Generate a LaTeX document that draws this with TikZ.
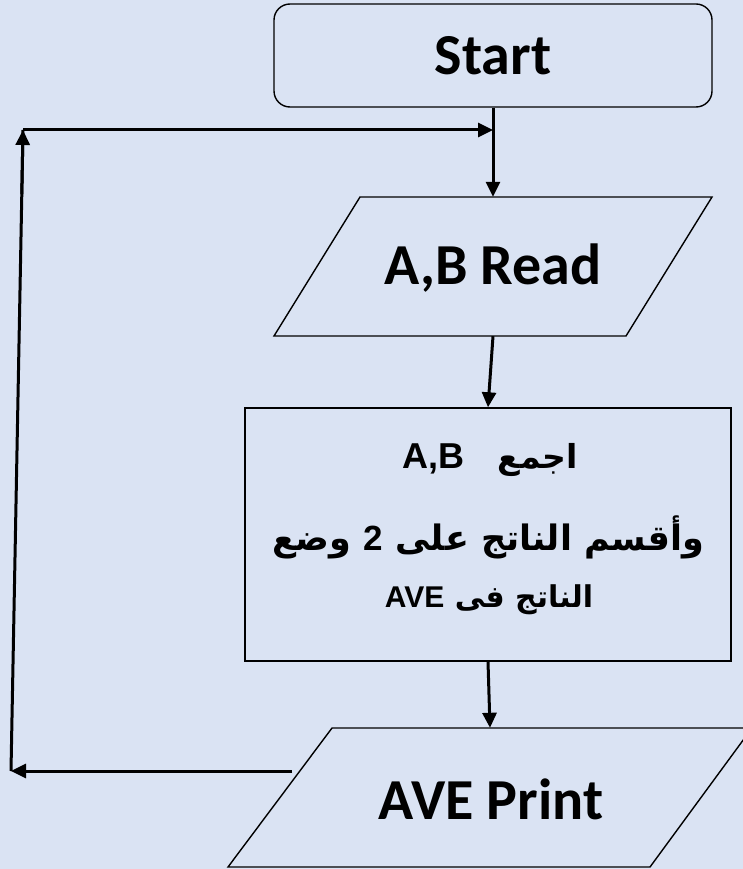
\documentclass[tikz,border=0pt]{standalone}
\usepackage{fontspec}
\setmainfont{Carlito}
\newfontfamily\arabicfont[Script=Arabic]{DejaVu Sans}
\newfontfamily\arialfont{Liberation Sans}
\TeXXeTstate=1
\usetikzlibrary{arrows.meta,calc}
\definecolor{bgc}{HTML}{DAE3F3}
\tikzset{
  box/.style={draw=black,line width=1.4pt,fill=bgc,inner sep=0pt},
  textbox/.style={draw=none,inner sep=0pt,font=\fontsize{58}{60}\selectfont\bfseries},
  arabline/.style={inner sep=0pt,anchor=base},
  arr/.style={line width=3pt,-{Triangle[length=15pt,width=14pt]}},
}
\begin{document}
\begin{tikzpicture}[x=1pt,y=-1pt]
\fill[bgc] (0,0) rectangle (743,869);
\useasboundingbox (0,0) rectangle (743,869);
\clip (0,0) rectangle (743,869);
% Start
\node[box,rounded corners=16pt,minimum width=438pt,minimum height=103pt,
      font=\fontsize{58}{60}\selectfont\bfseries] (start) at (493,55.5) {Start};
% Read
\node[textbox,minimum width=350pt,minimum height=139pt] (read) at (493,266.5) {};
\draw[box] (360,197) -- (712,197) -- (626,336) -- (274,336) -- cycle;
\node[textbox] (readt) at (493,268) {A,B Read};
% Process
\node[box,minimum width=486pt,minimum height=253pt] (proc) at (488,534.5) {};
\node[arabline] (l1) at (490,468) {\bfseries\fontsize{33}{34}\selectfont\arabicfont\beginR اجمع\quad\beginL\fontsize{36}{38}\selectfont\arialfont A,B\endL\endR};
\node[arabline] (l2) at (488,550) {\bfseries\fontsize{35}{37}\selectfont\arabicfont\beginR وأقسم الناتج على \arialfont 2\arabicfont{} وضع\endR};
\node[arabline] (l3) at (489,607) {\bfseries\fontsize{30}{32}\selectfont\arabicfont\beginR الناتج فى \beginL\arialfont AVE\endL\endR};
% Print
\node[textbox,minimum width=350pt,minimum height=139pt] (print) at (490,797.5) {};
\draw[box] (332,728) -- (752,728) -- (650,867) -- (228,867) -- cycle;
\node[textbox] (printt) at (491,799) {AVE Print};
% connectors
\coordinate (pl) at (292,771);
\coordinate (c1) at (11,771);
\coordinate (c2) at (23,130);
\coordinate (c3) at (493,130);
\draw[arr] (start.south) -- (read.north);
\draw[arr] (read.south) -- (proc.north);
\draw[arr] (proc.south) -- (print.north);
\draw[arr] (pl) -- (c1);
\draw[line width=3pt] (c1) -- (c2);
\draw[arr] ($(c1)!0.9!(c2)$) -- (c2);
\draw[arr] (c2) -- (c3);
\end{tikzpicture}
\end{document}
